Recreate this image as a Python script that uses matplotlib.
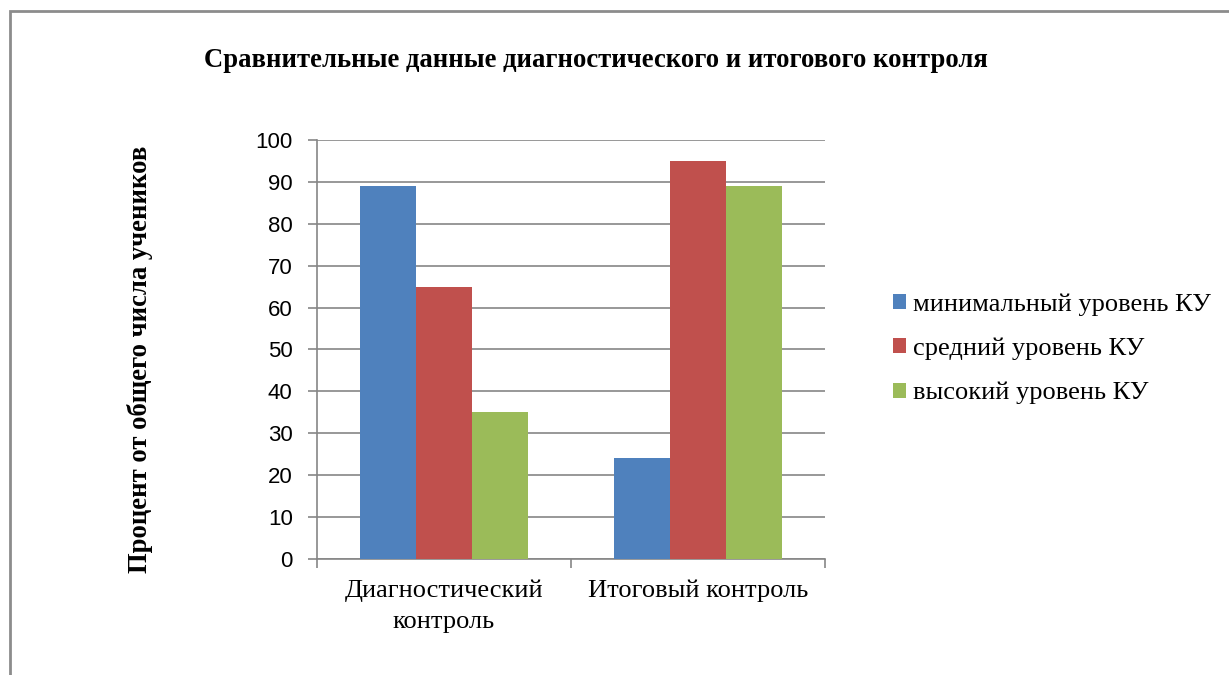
import matplotlib.pyplot as plt
from matplotlib.patches import Rectangle
import numpy as np

categories = ['Диагностический\nконтроль', 'Итоговый контроль']
series_names = ['минимальный уровень КУ', 'средний уровень КУ', 'высокий уровень КУ']
minimal = [89, 24]
medium = [65, 95]
high = [35, 89]
colors = ['#4F81BD', '#C0504D', '#9BBB59']

fig = plt.figure(figsize=(12.29, 6.75), dpi=100)
ax = fig.add_axes([0.2579, 0.1719, 0.4134, 0.6207])

x = np.arange(len(categories))
w = 0.2205
for i, (vals, name) in enumerate(zip([minimal, medium, high], series_names)):
    ax.bar(x + (i - 1) * w, vals, w, color=colors[i], label=name, zorder=3)

ax.set_xlim(-0.5, 1.5)
ax.set_ylim(0, 100)
ax.set_yticks(range(0, 101, 10))
ax.yaxis.grid(True, color='#868686', linewidth=1.2, zorder=0)
for s in ['top', 'right']:
    ax.spines[s].set_visible(False)
for s in ['left', 'bottom']:
    ax.spines[s].set_color('#868686')
    ax.spines[s].set_linewidth(1.2)

ax.set_xticks(x)
ax.set_xticklabels(categories, family='Liberation Serif', fontsize=19, linespacing=1.5)
ax.set_xticks([-0.5, 0.5, 1.5], minor=True)
ax.tick_params(axis='x', which='major', length=0, pad=15)
ax.tick_params(axis='x', which='minor', length=6.5, color='#868686', width=1.2)
ax.tick_params(axis='y', length=6.5, color='#868686', width=1.2, labelsize=16, pad=11)
for t in ax.get_yticklabels():
    t.set_family('Liberation Sans')

fig.text(0.485, 0.911, 'Сравнительные данные диагностического и итогового контроля',
         ha='center', va='center', family='Liberation Serif', fontweight='bold', fontsize=19.2)
fig.text(0.114, 0.467, 'Процент от общего числа учеников', rotation=90,
         ha='center', va='center', family='Liberation Serif', fontweight='bold', fontsize=19.2)

fig.legend(loc='center left', bbox_to_anchor=(893 / 1229, 1 - 349 / 675), frameon=False,
           prop={'family': 'Liberation Serif', 'size': 19},
           borderaxespad=0, borderpad=0,
           handlelength=0.5, handleheight=0.5, handletextpad=0.26, labelspacing=0.82)

fig.patches.append(Rectangle((10 / 1229, -0.1), 1.2, 1 - 11 / 675 + 0.1,
                             transform=fig.transFigure, fill=False,
                             edgecolor='#8C8C8C', linewidth=2))

fig.savefig('out.png', dpi=100)
